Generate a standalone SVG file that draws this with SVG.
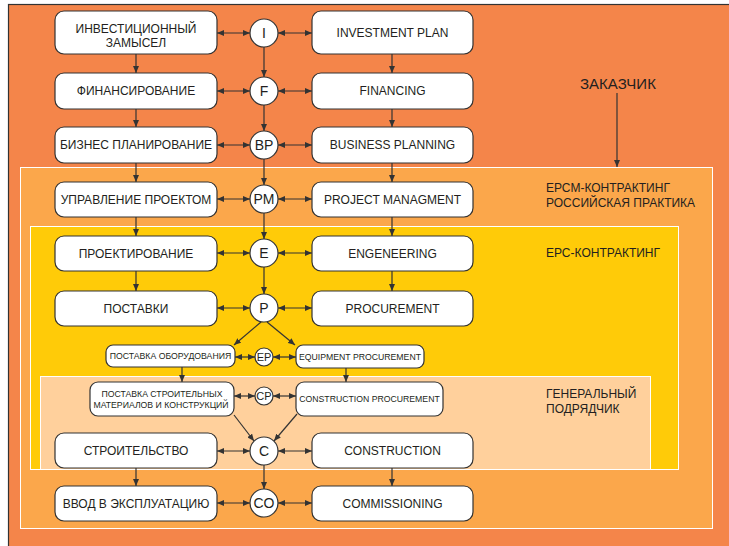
<svg xmlns="http://www.w3.org/2000/svg" width="729" height="546" viewBox="0 0 729 546">
<style>
.box{fill:#fff;stroke:#333;stroke-width:1.2}
.cir{fill:#fff;stroke:#333;stroke-width:1.2}
text{font-family:"Liberation Sans",Arial,sans-serif;fill:#231F20}
.t{font-size:12px;text-anchor:middle}
.c{font-size:14px;text-anchor:middle}
.cs{font-size:11px;text-anchor:middle}
.s{font-size:8.7px;text-anchor:middle}
.lab{font-size:12px}
.ln{stroke:#333;stroke-width:1.2;fill:none;marker-end:url(#ah)}
.dl{stroke:#333;stroke-width:1.2;fill:none;marker-end:url(#ah);marker-start:url(#ah)}
</style>
<defs>
<marker id="ah" viewBox="0 0 7 6" refX="7" refY="3" markerWidth="7" markerHeight="6" markerUnits="userSpaceOnUse" orient="auto-start-reverse">
<path d="M0,0 L7,3 L0,6 z" fill="#333"/>
</marker>
</defs>
<rect x="0" y="0" width="729" height="546" fill="#fff"/>
<g id="regions">
<rect x="8.5" y="4.5" width="740" height="560" fill="#F4854A" stroke="#333" stroke-width="1.2"/>
<rect x="20.5" y="167.5" width="692" height="361" fill="#FBA74B" stroke="#fff" stroke-width="1"/>
<rect x="30.5" y="226.5" width="648" height="243" fill="#FFCB08" stroke="#fff" stroke-width="1"/>
<rect x="40.5" y="376.5" width="610" height="93" fill="#FFD09C" stroke="#fff" stroke-width="1"/>
</g>
<g id="region-labels">
<text class="lab" x="580" y="89" style="font-size:15px">ЗАКАЗЧИК</text>
<text class="lab" x="546" y="192">ЕРСМ-КОНТРАКТИНГ</text>
<text class="lab" x="546" y="207">РОССИЙСКАЯ ПРАКТИКА</text>
<text class="lab" x="546" y="257">ЕРС-КОНТРАКТИНГ</text>
<text class="lab" x="546" y="398">ГЕНЕРАЛЬНЫЙ</text>
<text class="lab" x="546" y="413">ПОДРЯДЧИК</text>
</g>
<g id="connectors">
<line class="ln" x1="617" y1="93" x2="617" y2="167"/>
<line class="ln" x1="136" y1="54" x2="136" y2="73"/>
<line class="ln" x1="136" y1="109" x2="136" y2="127"/>
<line class="ln" x1="136" y1="163" x2="136" y2="182"/>
<line class="ln" x1="136" y1="217" x2="136" y2="236"/>
<line class="ln" x1="136" y1="271" x2="136" y2="291"/>
<line class="ln" x1="136" y1="468" x2="136" y2="486"/>
<line class="ln" x1="392" y1="54" x2="392" y2="73"/>
<line class="ln" x1="392" y1="109" x2="392" y2="127"/>
<line class="ln" x1="392" y1="163" x2="392" y2="182"/>
<line class="ln" x1="392" y1="217" x2="392" y2="236"/>
<line class="ln" x1="392" y1="271" x2="392" y2="291"/>
<line class="ln" x1="392" y1="468" x2="392" y2="486"/>
<line class="ln" x1="264" y1="47" x2="264" y2="77"/>
<line class="ln" x1="264" y1="105" x2="264" y2="131"/>
<line class="ln" x1="264" y1="159" x2="264" y2="185"/>
<line class="ln" x1="264" y1="213" x2="264" y2="239"/>
<line class="ln" x1="264" y1="267" x2="264" y2="294"/>
<line class="ln" x1="264" y1="465" x2="264" y2="489"/>
<line class="ln" x1="182" y1="367" x2="182" y2="382"/>
<line class="ln" x1="346" y1="368" x2="346" y2="382"/>
<line class="ln" x1="261" y1="322" x2="234" y2="345"/>
<line class="ln" x1="267" y1="322" x2="295" y2="345"/>
<line class="ln" x1="234" y1="415" x2="254" y2="441"/>
<line class="ln" x1="297" y1="414" x2="274" y2="441"/>
<line class="dl" x1="217" y1="33" x2="250" y2="33"/>
<line class="dl" x1="278" y1="33" x2="312" y2="33"/>
<line class="dl" x1="217" y1="91" x2="250" y2="91"/>
<line class="dl" x1="278" y1="91" x2="312" y2="91"/>
<line class="dl" x1="217" y1="145" x2="250" y2="145"/>
<line class="dl" x1="278" y1="145" x2="312" y2="145"/>
<line class="dl" x1="217" y1="199" x2="250" y2="199"/>
<line class="dl" x1="278" y1="199" x2="312" y2="199"/>
<line class="dl" x1="217" y1="253" x2="250" y2="253"/>
<line class="dl" x1="278" y1="253" x2="312" y2="253"/>
<line class="dl" x1="217" y1="308" x2="250" y2="308"/>
<line class="dl" x1="278" y1="308" x2="312" y2="308"/>
<line class="dl" x1="217" y1="451" x2="250" y2="451"/>
<line class="dl" x1="278" y1="451" x2="312" y2="451"/>
<line class="dl" x1="217" y1="503" x2="250" y2="503"/>
<line class="dl" x1="278" y1="503" x2="312" y2="503"/>
<line class="dl" x1="235" y1="357" x2="255" y2="357"/>
<line class="dl" x1="273" y1="357" x2="296" y2="357"/>
<line class="dl" x1="234" y1="396" x2="255" y2="396"/>
<line class="dl" x1="273" y1="396" x2="296" y2="396"/>
</g>
<g id="n-invest-ru"><rect class="box" x="55" y="11" width="162" height="43" rx="9"/><text class="t" x="136" y="32.5">ИНВЕСТИЦИОННЫЙ</text><text class="t" x="136" y="46.5">ЗАМЫСЕЛ</text></g>
<g id="n-fin-ru"><rect class="box" x="55" y="73" width="162" height="36" rx="9"/><text class="t" x="136" y="95.3">ФИНАНСИРОВАНИЕ</text></g>
<g id="n-bp-ru"><rect class="box" x="55" y="127" width="162" height="36" rx="9"/><text class="t" x="136" y="149.3">БИЗНЕС ПЛАНИРОВАНИЕ</text></g>
<g id="n-pm-ru"><rect class="box" x="55" y="182" width="162" height="35" rx="9"/><text class="t" x="136" y="203.8">УПРАВЛЕНИЕ ПРОЕКТОМ</text></g>
<g id="n-eng-ru"><rect class="box" x="55" y="236" width="162" height="35" rx="9"/><text class="t" x="136" y="257.8">ПРОЕКТИРОВАНИЕ</text></g>
<g id="n-proc-ru"><rect class="box" x="55" y="291" width="162" height="35" rx="9"/><text class="t" x="136" y="312.8">ПОСТАВКИ</text></g>
<g id="n-eqp-ru"><rect class="box" x="106" y="345" width="129" height="22" rx="7"/><text class="s" x="170.5" y="359.2">ПОСТАВКА ОБОРУДОВАНИЯ</text></g>
<g id="n-cp-ru"><rect class="box" x="90" y="382" width="144" height="34" rx="8"/><text class="s" x="162" y="397">ПОСТАВКА СТРОИТЕЛЬНЫХ</text><text class="s" x="161" y="407.5">МАТЕРИАЛОВ И КОНСТРУКЦИЙ</text></g>
<g id="n-con-ru"><rect class="box" x="55" y="433" width="162" height="35" rx="9"/><text class="t" x="136" y="454.8">СТРОИТЕЛЬСТВО</text></g>
<g id="n-com-ru"><rect class="box" x="55" y="486" width="162" height="35" rx="9"/><text class="t" x="136" y="507.8">ВВОД В ЭКСПЛУАТАЦИЮ</text></g>
<g id="n-invest-en"><rect class="box" x="312" y="11" width="161" height="43" rx="9"/><text class="t" x="392.5" y="37">INVESTMENT PLAN</text></g>
<g id="n-fin-en"><rect class="box" x="312" y="73" width="161" height="36" rx="9"/><text class="t" x="392.5" y="95.3">FINANCING</text></g>
<g id="n-bp-en"><rect class="box" x="312" y="127" width="161" height="36" rx="9"/><text class="t" x="392.5" y="149.3">BUSINESS PLANNING</text></g>
<g id="n-pm-en"><rect class="box" x="312" y="182" width="161" height="35" rx="9"/><text class="t" x="392.5" y="203.8">PROJECT MANAGMENT</text></g>
<g id="n-eng-en"><rect class="box" x="312" y="236" width="161" height="35" rx="9"/><text class="t" x="392.5" y="257.8">ENGENEERING</text></g>
<g id="n-proc-en"><rect class="box" x="312" y="291" width="161" height="35" rx="9"/><text class="t" x="392.5" y="312.8">PROCUREMENT</text></g>
<g id="n-eqp-en"><rect class="box" x="296" y="345" width="128" height="23" rx="7"/><text class="s" x="360" y="359.7">EQUIPMENT PROCUREMENT</text></g>
<g id="n-cp-en"><rect class="box" x="296" y="382" width="147" height="34" rx="8"/><text class="s" x="369.5" y="402.2">CONSTRUCTION PROCUREMENT</text></g>
<g id="n-con-en"><rect class="box" x="312" y="433" width="161" height="35" rx="9"/><text class="t" x="392.5" y="454.8">CONSTRUCTION</text></g>
<g id="n-com-en"><rect class="box" x="312" y="486" width="161" height="35" rx="9"/><text class="t" x="392.5" y="507.8">COMMISSIONING</text></g>
<g id="c-i"><circle class="cir" cx="264" cy="33" r="14"/><text class="c" x="264" y="38">I</text></g>
<g id="c-f"><circle class="cir" cx="264" cy="91" r="14"/><text class="c" x="264" y="96">F</text></g>
<g id="c-bp"><circle class="cir" cx="264" cy="145" r="14"/><text class="c" x="264" y="150">BP</text></g>
<g id="c-pm"><circle class="cir" cx="264" cy="199" r="14"/><text class="c" x="264" y="204">PM</text></g>
<g id="c-e"><circle class="cir" cx="264" cy="253" r="14"/><text class="c" x="264" y="258">E</text></g>
<g id="c-p"><circle class="cir" cx="264" cy="308" r="14"/><text class="c" x="264" y="313">P</text></g>
<g id="c-ep"><circle class="cir" cx="264" cy="357" r="9"/><text class="cs" x="264" y="361">EP</text></g>
<g id="c-cp"><circle class="cir" cx="264" cy="396" r="9"/><text class="cs" x="264" y="400">CP</text></g>
<g id="c-c"><circle class="cir" cx="264" cy="451" r="14"/><text class="c" x="264" y="456">C</text></g>
<g id="c-co"><circle class="cir" cx="264" cy="503" r="14"/><text class="c" x="264" y="508">CO</text></g>
</svg>
